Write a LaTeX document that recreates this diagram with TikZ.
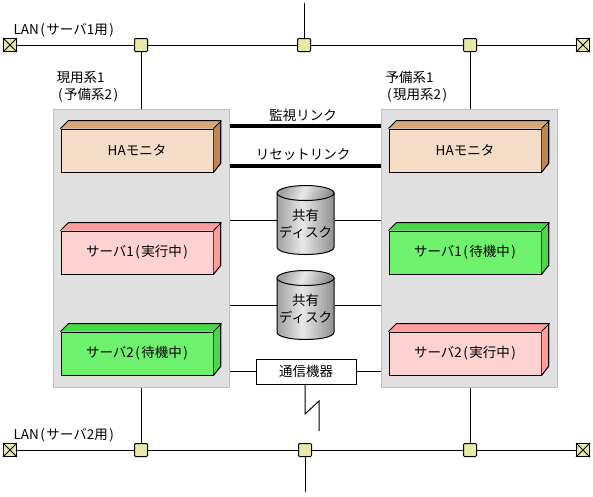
\documentclass[tikz,border=0pt]{standalone}
\usepackage{fontspec}
\setmainfont{Noto Sans CJK JP}
\usetikzlibrary{shapes,arrows}
\definecolor{panelgray}{HTML}{E0E0E0}
\definecolor{hubyellow}{HTML}{E8E8A8}
\definecolor{hafront}{HTML}{F5DCC6}
\definecolor{hatop}{HTML}{D8A878}
\definecolor{haside}{HTML}{C08850}
\definecolor{pinkfront}{HTML}{FFD2D2}
\definecolor{pinktop}{HTML}{FF9C9C}
\definecolor{pinkside}{HTML}{FF9C9C}
\definecolor{greenfront}{HTML}{6EF26E}
\definecolor{greentop}{HTML}{48D848}
\definecolor{greenside}{HTML}{48D848}
\definecolor{diskedge}{HTML}{A0A0A0}
\definecolor{disklight}{HTML}{E8E8E8}
\definecolor{diskdark}{HTML}{909090}
\pgfdeclarehorizontalshading{diskbody}{100bp}{color(0bp)=(diskedge); color(25bp)=(diskedge); color(47bp)=(disklight); color(75bp)=(diskdark); color(100bp)=(diskdark)}
\newcommand{\lp}{\hspace{1.5pt}(\hspace{1.5pt}}
\newcommand{\rp}{\hspace{1.5pt})}
\newcommand{\boxfaces}[3]{%
	\fill[#2] (#1.north west) -- ++(8,-8) -- ++(152,0) -- ++(-8,8) -- cycle;
	\fill[#3] (#1.north east) -- ++(8,-8) -- ++(0,43) -- ++(-8,8) -- cycle;
	\draw[line width=1pt] (#1.north west) -- ++(8,-8) -- ++(152,0) -- ++(0,43) -- (#1.south east) (#1.north east) -- ++(8,-8);
}
\begin{document}
\begin{tikzpicture}[x=1pt, y=-1pt, line width=1pt,
			font=\fontsize{13.5pt}{17pt}\selectfont,
			panel/.style={fill=panelgray, draw=gray!50, minimum width=176pt, minimum height=278pt, inner sep=0pt},
			unit/.style={draw=black, minimum width=152pt, minimum height=43pt, inner sep=0pt},
			hub/.style={draw=black, fill=hubyellow, rounded corners=1pt, minimum size=13pt, inner sep=0pt},
			term/.style={draw=black, cross out, minimum size=13pt, inner sep=0pt},
			thicklink/.style={line width=4pt},
			caption/.style={inner sep=0pt, align=left}]
			% Bildbereich
			\useasboundingbox (0,0) rectangle (593,496);
			\coordinate (topend) at (304,3);
			\coordinate (bottomend) at (305,492);
			\coordinate (wanend) at (319,431);
			% Gehaeuse
			\node[panel] (leftpanel) at (141,248) {};
			\node[panel] (rightpanel) at (469,248) {};
			% LAN
			\foreach \name/\y in {top/45,bottom/450} {
				\foreach \pos/\x in {l/10,r/583} {
					\fill[hubyellow] (\x-6.5,\y-6.5) rectangle (\x+6.5,\y+6.5);
					\node[term] (\name\pos) at (\x,\y) {};
					\draw (\x-6.5,\y-6.5) rectangle (\x+6.5,\y+6.5);
				}
			}
			\node[hub] (topa) at (141,45) {};
			\node[hub] (topb) at (304,45) {};
			\node[hub] (topc) at (470,45) {};
			\node[hub] (bottoma) at (141,450) {};
			\node[hub] (bottomb) at (305,450) {};
			\node[hub] (bottomc) at (470,450) {};
			\foreach \name in {top,bottom} {
				\draw (\name l) -- (\name a);
				\draw (\name a) -- (\name b);
				\draw (\name b) -- (\name c);
				\draw (\name c) -- (\name r);
			}
			\draw (topb) -- (topend);
			\draw (bottomb) -- (bottomend);
			\draw (topa) -- (leftpanel.north -| topa);
			\draw (topc) -- (rightpanel.north -| topc);
			\draw (bottoma) -- (leftpanel.south -| bottoma);
			\draw (bottomc) -- (rightpanel.south -| bottomc);
			% Beschriftung
			\node[caption, anchor=west] (lanone) at (13,30) {LAN\lp サーバ1用\rp};
			\node[caption, anchor=west] (lantwo) at (13,435) {LAN\lp サーバ2用\rp};
			\node[caption, anchor=north west] (leftname) at (56,71) {現用系1\\\lp 予備系2\rp};
			\node[caption, anchor=north west] (rightname) at (385,71) {予備系1\\\lp 現用系2\rp};
			% Bausteine
			\foreach \name/\x/\y/\front/\top/\side/\label in {
				lefta/137/150.5/hafront/hatop/haside/HAモニタ,
				leftb/137/252.5/pinkfront/pinktop/pinkside/サーバ1\lp 実行中\rp,
				leftc/137/353.5/greenfront/greentop/greenside/サーバ2\lp 待機中\rp,
				righta/465/150.5/hafront/hatop/haside/HAモニタ,
				rightb/465/252.5/greenfront/greentop/greenside/サーバ1\lp 待機中\rp,
				rightc/465/353.5/pinkfront/pinktop/pinkside/サーバ2\lp 実行中\rp} {
				\node[unit, fill=\front] (\name) at (\x,\y) {\label};
				\boxfaces{\name}{\top}{\side}
			}
			% Verbindungen
			\draw[thicklink] (leftpanel.east |- 0,126) -- (rightpanel.west |- 0,126);
			\draw[thicklink] (leftpanel.east |- 0,166) -- (rightpanel.west |- 0,166);
			\node[inner sep=0pt] (watchlink) at (303,115) {監視リンク};
			\node[inner sep=0pt] (resetlink) at (303,155) {リセットリンク};
			% Platten
			\foreach \name/\y in {diska/220,diskb/305} {
				\shade[shading=diskbody, draw=black]
					(277,\y-27) -- (277,\y+27) .. controls (277,\y+37) and (334,\y+37) .. (334,\y+27)
					-- (334,\y-27) -- cycle;
				\shade[shading=diskbody, shading angle=-25, draw=black]
					(305.5,\y-27) ellipse[x radius=28.5, y radius=7.5];
				\node[minimum width=57pt, minimum height=70pt, inner sep=0pt] (\name) at (305.5,\y) {};
				\node[inner sep=0pt, align=center, yshift=-4pt] (\name text) at (\name.center) {共有\\ディスク};
				\draw (leftpanel.east |- \name.west) -- (\name.west);
				\draw (\name.east) -- (rightpanel.west |- \name.east);
			}
			% Kommunikation
			\node[draw=black, fill=white, minimum width=100pt, minimum height=25pt, inner sep=0pt] (comm) at (306,371.5) {通信機器};
			\draw (leftpanel.east |- comm.west) -- (comm.west);
			\draw (comm.east) -- (rightpanel.west |- comm.east);
			\draw (comm.south -| 305,0) -- (305,414) -- (319,401) -- (wanend);
		\end{tikzpicture}
\end{document}
